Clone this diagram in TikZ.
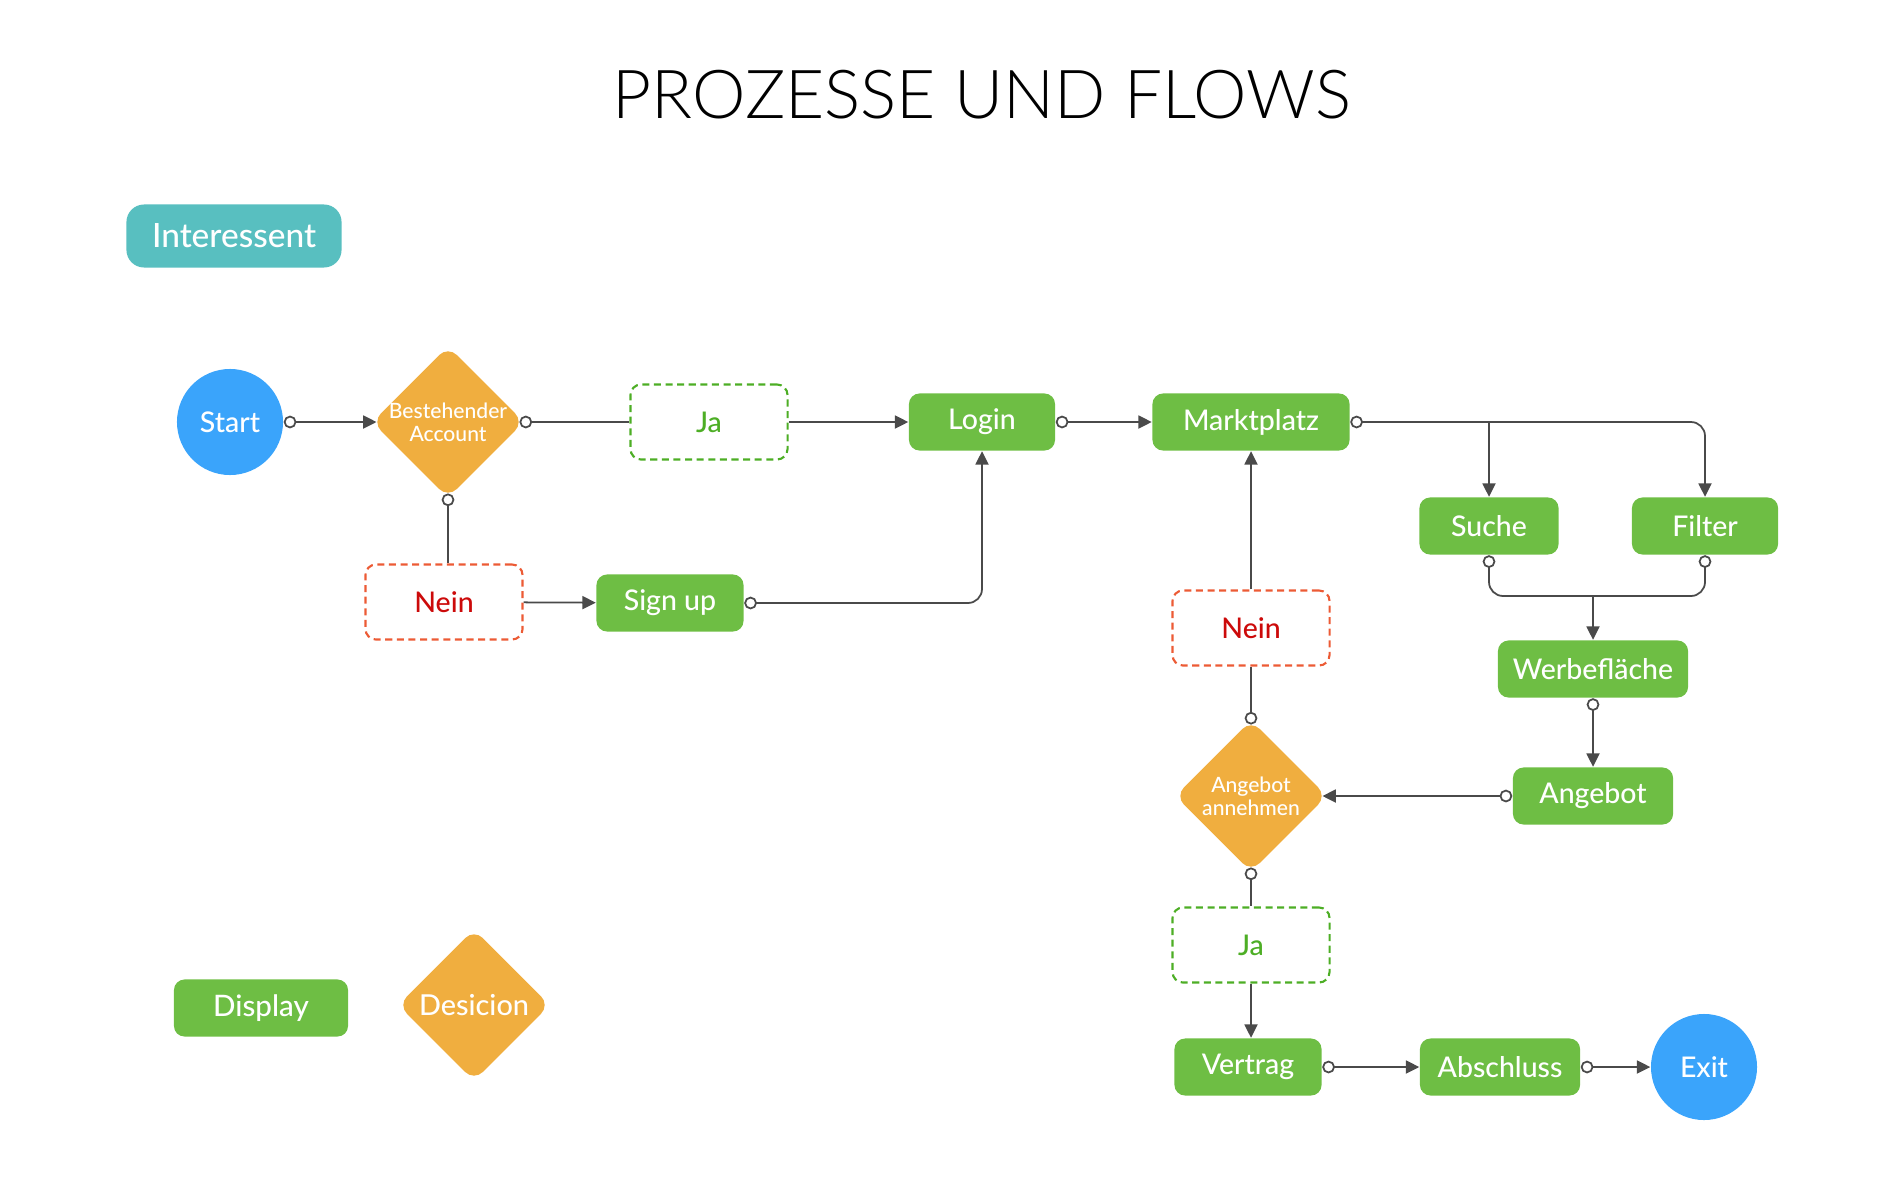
\documentclass[tikz,border=0pt]{standalone}
\usepackage{fontspec}
\IfFontExistsTF{Lato Medium}{\setmainfont{Lato Medium}}{\setmainfont{Lato}}
\IfFontExistsTF{Lato Light}{\newfontfamily\titlefont{Lato Light}}{\newfontfamily\titlefont{Lato}}
\usetikzlibrary{arrows.meta,shapes.geometric}

\definecolor{flowgreen}{HTML}{6EBE44}
\definecolor{flowgold}{HTML}{F0AE3F}
\definecolor{flowblue}{HTML}{3AA4FB}
\definecolor{flowteal}{HTML}{58BFC0}
\definecolor{neinred}{HTML}{CC0A0A}
\definecolor{neinline}{HTML}{EC5B35}
\definecolor{jagreen}{HTML}{4DAE25}
\definecolor{linegray}{HTML}{4A4A4A}

\tikzset{
  display/.style={fill=flowgreen, text=white, rounded corners=3pt,
    minimum height=0.57cm, inner sep=0pt, font=\fontsize{8.1}{9}\selectfont},
  decision/.style={diamond, aspect=1, fill=flowgold, text=white,
    rounded corners=3.5pt, minimum size=1.52cm, inner sep=0pt},
  decisionlabel/.style={text=white, align=center, font=\fontsize{6}{6.6}\selectfont},
  terminal/.style={circle, fill=flowblue, text=white, minimum size=1.06cm,
    inner sep=0pt, font=\fontsize{8.1}{9}\selectfont},
  jabox/.style={draw=jagreen, text=jagreen, line width=0.6pt, dash pattern=on 2pt off 1.3pt,
    rounded corners=3pt, minimum width=1.57cm, minimum height=0.75cm,
    font=\fontsize{8.1}{9}\selectfont},
  neinbox/.style={jabox, draw=neinline, text=neinred},
  flow/.style={draw=linegray, line width=0.5pt,
    {Circle[open,length=3.6pt]}-{Triangle[length=3.8pt,width=3.7pt]}},
  link/.style={draw=linegray, line width=0.5pt, {Circle[open,length=3.6pt]}-},
  arr/.style={draw=linegray, line width=0.5pt, -{Triangle[length=3.8pt,width=3.7pt]}}
}

\begin{document}
\begin{tikzpicture}[x=0.01cm, y=-0.01cm]
\useasboundingbox (0,0) rectangle (1900,1200);

% =============================================
% TITEL UND ROLLE
% =============================================
\node[font=\titlefont\fontsize{19.2}{23}\selectfont] (titel) at (982,95) {PROZESSE UND FLOWS};
\node[fill=flowteal, text=white, rounded corners=5pt, minimum width=2.15cm,
      minimum height=0.63cm, font=\fontsize{9.5}{11}\selectfont] (rolle) at (234,236) {Interessent};

% =============================================
% OBERE REIHE: Start bis Marktplatz
% =============================================
\node[terminal] (start) at (230,422) {Start};
\node[decision, label={[decisionlabel]center:Bestehender\\Account}] (bestand) at (448,422) {};
\node[jabox] (ja1) at (709,422) {Ja};
\node[display, minimum width=1.46cm] (login) at (982,422) {Login};
\node[display, minimum width=1.97cm] (markt) at (1251,422) {Marktplatz};

% Zweig ohne Account
\node[neinbox] (nein1) at (444,602) {Nein};
\node[display, minimum width=1.47cm] (signup) at (670,603) {Sign up};

% =============================================
% RECHTE SPALTE: Suche bis Angebot
% =============================================
\node[display, minimum width=1.39cm] (suche) at (1489,526) {Suche};
\node[display, minimum width=1.46cm] (filter) at (1705,526) {Filter};
\node[display, minimum width=1.90cm] (werbe) at (1593,669) {Werbefläche};
\node[display, minimum width=1.60cm] (angebot) at (1593,796) {Angebot};
\coordinate (merge) at (1593,596);

% =============================================
% UNTERE MITTE: Entscheidung und Abschluss
% =============================================
\node[neinbox] (nein2) at (1251,628) {Nein};
\node[decision, label={[decisionlabel]center:Angebot\\annehmen}] (annehmen) at (1251,796) {};
\node[jabox] (ja2) at (1251,945) {Ja};
\node[display, minimum width=1.47cm] (vertrag) at (1248,1067) {Vertrag};
\node[display, minimum width=1.60cm] (abschluss) at (1500,1067) {Abschluss};
\node[terminal] (exit) at (1704,1067) {Exit};

% =============================================
% LEGENDE
% =============================================
\node[display, minimum width=1.74cm, font=\fontsize{8.4}{10}\selectfont] (legdisplay) at (261,1008) {Display};
\node[decision, font=\fontsize{8.2}{10}\selectfont] (legdecision) at (474,1005) {Desicion};

% =============================================
% VERBINDUNGEN
% =============================================
\draw[flow, shorten >=-1.5pt] (start) -- (bestand);
\draw[link] ([xshift=-1.5pt]bestand.east) -- (ja1);
\draw[arr] (ja1) -- (login);
\draw[link] ([yshift=1.5pt]bestand.south) -- (bestand.south |- nein1.north);
\draw[arr] (nein1) -- (signup);
\draw[flow, rounded corners=4pt] (signup.east) -| (login.south);
\draw[flow] (login) -- (markt);

\draw[flow, rounded corners=4pt] (markt.east) -| (filter.north);
\draw[arr] (suche.north |- markt.east) -- (suche.north);
\draw[link, rounded corners=4pt] (suche.south) |- (merge);
\draw[link, rounded corners=4pt] (filter.south) |- (merge);
\draw[arr] (merge) -- (werbe.north);
\draw[flow] (werbe) -- (angebot);
\draw[flow, shorten >=-1.5pt] (angebot) -- (annehmen);

\draw[link] ([yshift=-1.5pt]annehmen.north) -- (nein2);
\draw[arr] (nein2) -- (markt);
\draw[link] ([yshift=1.5pt]annehmen.south) -- (ja2);
\draw[arr] (ja2) -- (ja2 |- vertrag.north);
\draw[flow] (vertrag) -- (abschluss);
\draw[flow] (abschluss) -- (exit);

\end{tikzpicture}
\end{document}
